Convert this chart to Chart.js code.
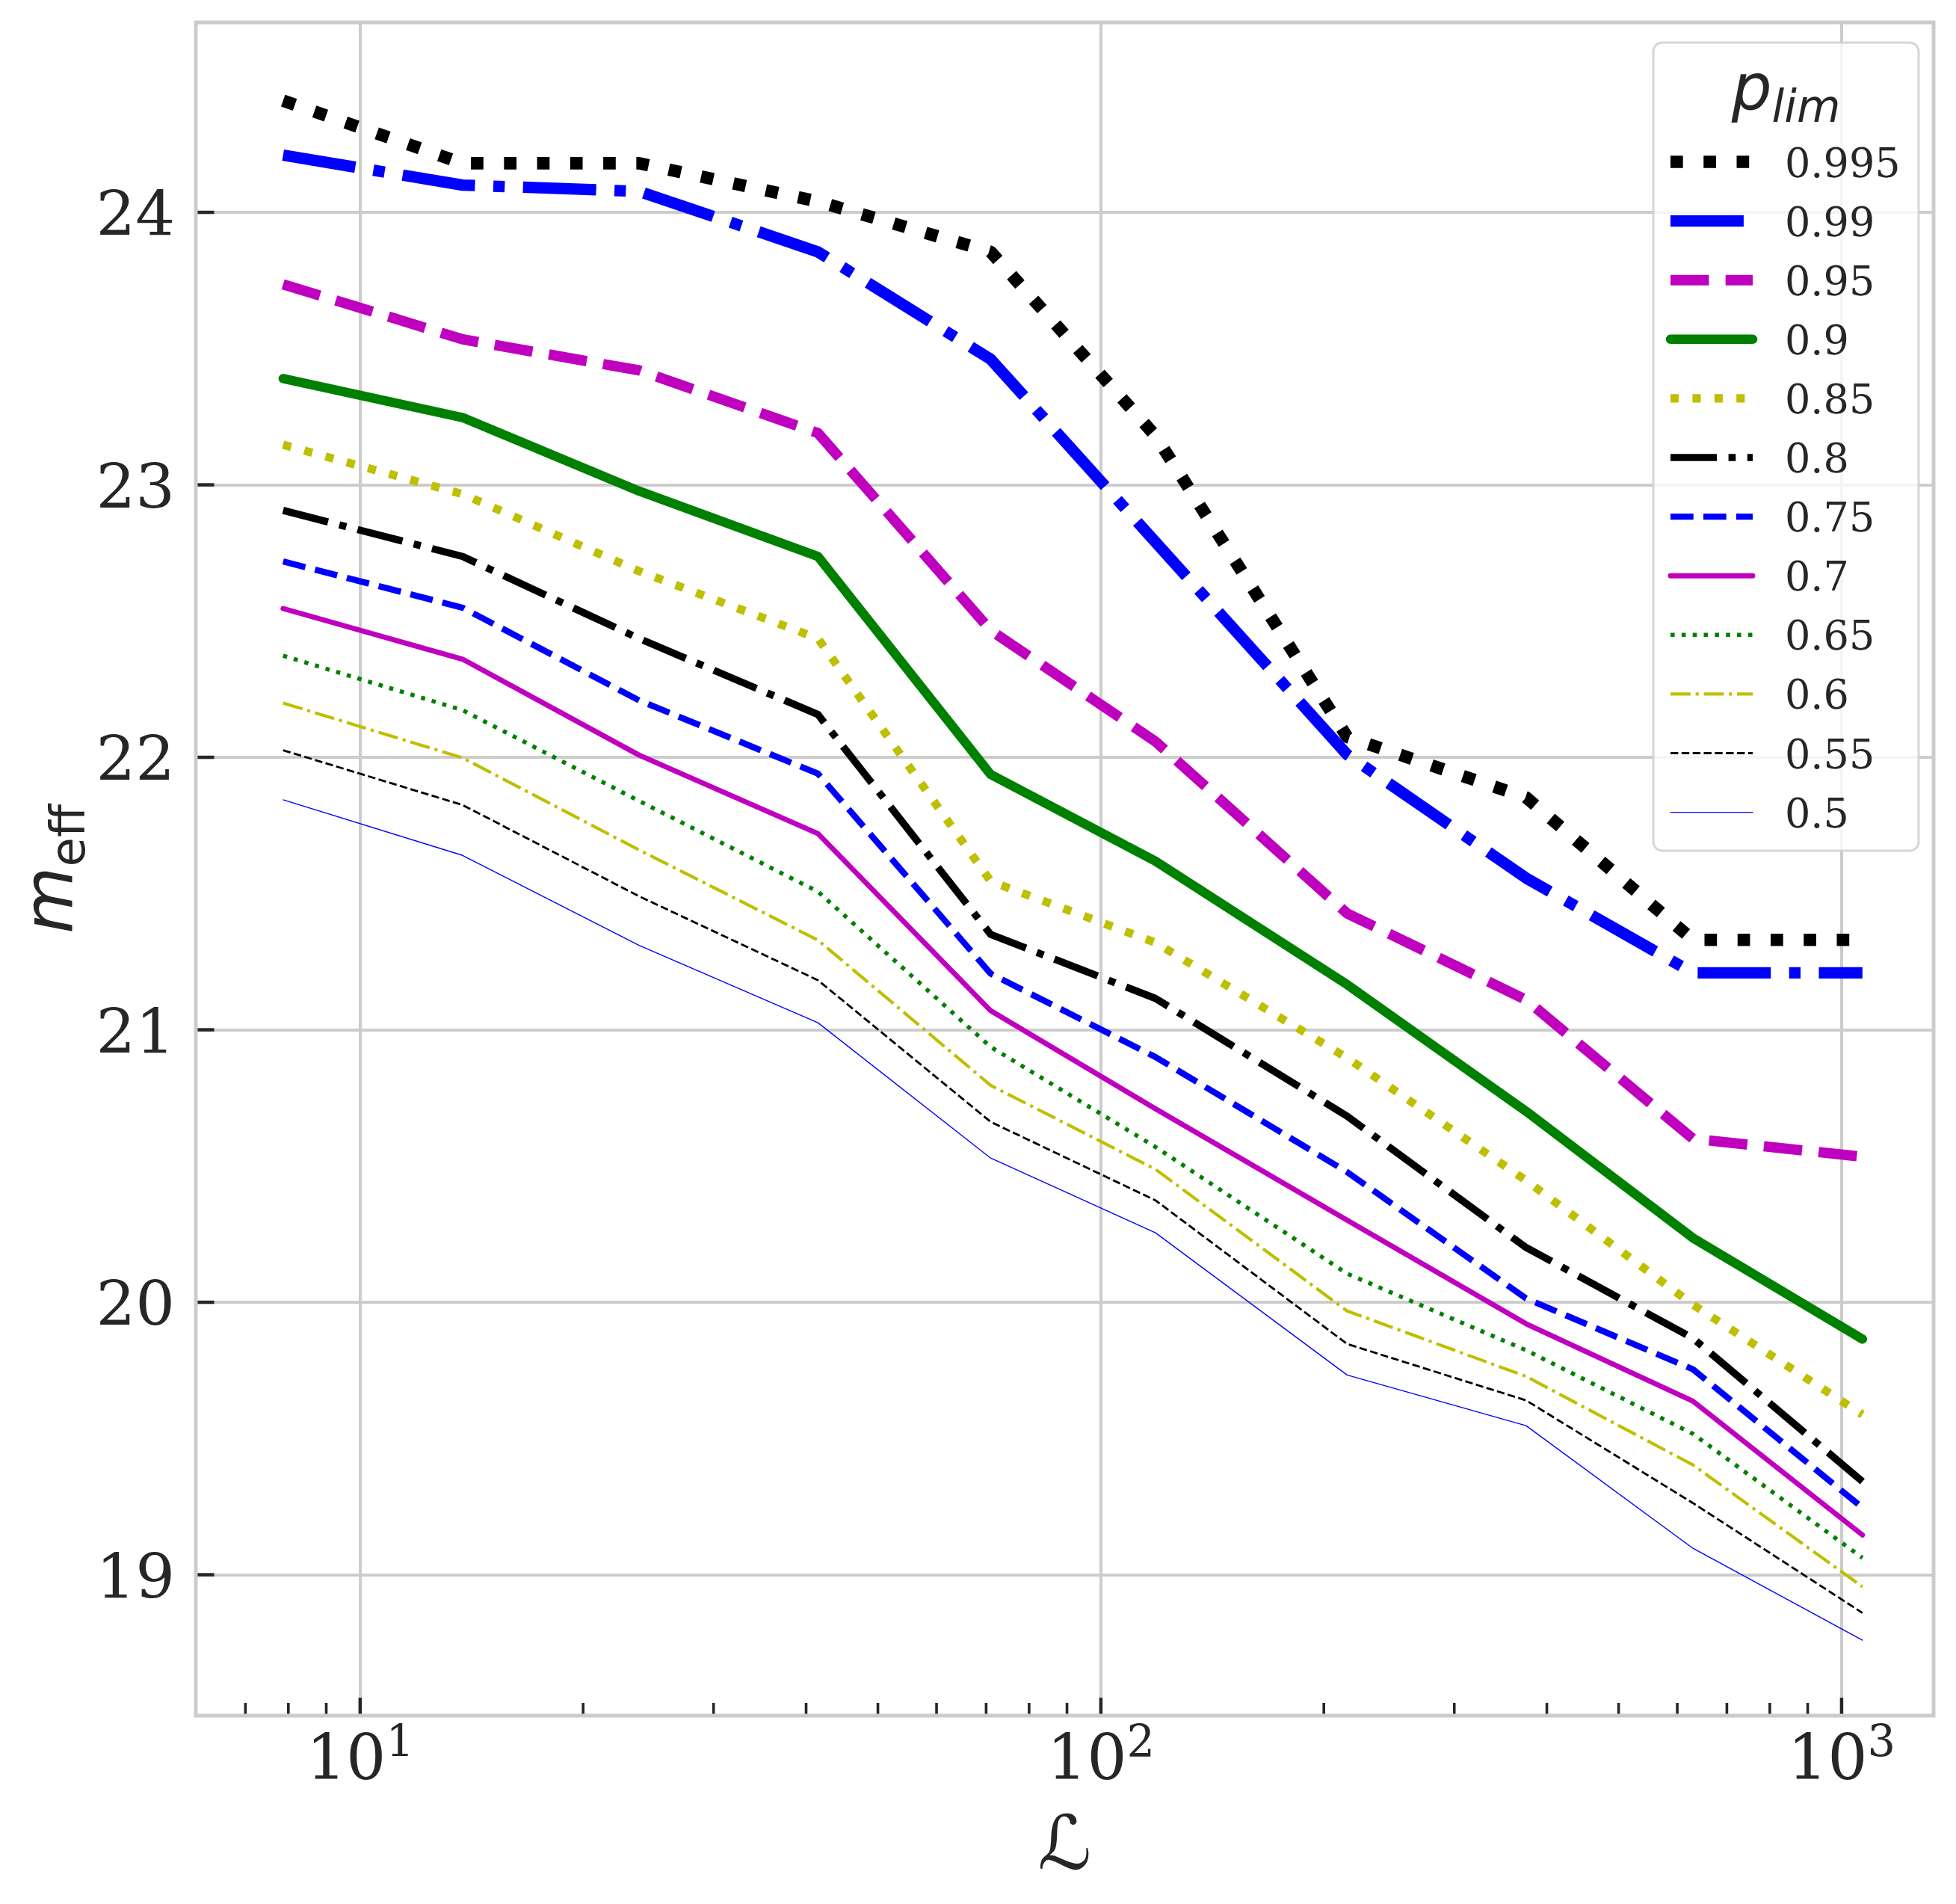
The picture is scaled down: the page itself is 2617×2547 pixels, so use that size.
<!DOCTYPE html>
<html lang="en">
<head>
  <meta charset="UTF-8">
  <title>m_eff vs L</title>
  <style>
    body { margin: 0; background: #ffffff; }
    canvas { display: block; }
  </style>
</head>
<body>
  <canvas id="chart" width="2617" height="2547"></canvas>

  <script src="https://cdn.jsdelivr.net/npm/chart.js@4.4.1/dist/chart.umd.min.js"></script>
  <script>
    // x positions of the curves (L)
    const lValues = [7.87, 13.75, 23.8, 41.5, 71.0, 118.5, 215, 375, 630, 1067];

    // m_eff for each p_lim
    const mEff995 = [24.41, 24.18, 24.18, 24.04, 23.855, 23.18, 22.075, 21.853, 21.33, 21.33];
    const mEff990 = [24.21, 24.10, 24.077, 23.855, 23.461, 22.79, 22.01, 21.557, 21.209, 21.209];
    const mEff950 = [23.736, 23.534, 23.42, 23.19, 22.466, 22.058, 21.427, 21.11, 20.60, 20.534];
    const mEff900 = [23.39, 23.247, 22.977, 22.737, 21.937, 21.619, 21.166, 20.701, 20.236, 19.865];
    const mEff850 = [23.147, 22.966, 22.683, 22.436, 21.545, 21.32, 20.897, 20.447, 19.991, 19.588];
    const mEff800 = [22.906, 22.737, 22.436, 22.157, 21.35, 21.115, 20.683, 20.201, 19.868, 19.342];
    const mEff750 = [22.719, 22.549, 22.209, 21.94, 21.206, 20.90, 20.478, 20.014, 19.754, 19.246];
    const mEff700 = [22.546, 22.36, 22.008, 21.72, 21.07, 20.71, 20.301, 19.921, 19.637, 19.146];
    const mEff650 = [22.373, 22.173, 21.84, 21.507, 20.937, 20.57, 20.105, 19.824, 19.517, 19.062];
    const mEff600 = [22.199, 21.998, 21.66, 21.329, 20.796, 20.488, 19.968, 19.728, 19.403, 18.956];
    const mEff550 = [22.026, 21.825, 21.49, 21.182, 20.662, 20.374, 19.847, 19.64, 19.263, 18.86];
    const mEff500 = [21.844, 21.64, 21.31, 21.026, 20.529, 20.255, 19.733, 19.547, 19.097, 18.76];

    const pLimLabels = ['0.995', '0.99', '0.95', '0.9', '0.85', '0.8', '0.75', '0.7', '0.65', '0.6', '0.55', '0.5'];
    const seriesValues = [mEff995, mEff990, mEff950, mEff900, mEff850, mEff800,
                          mEff750, mEff700, mEff650, mEff600, mEff550, mEff500];

    // ticks
    const yTicks = [19, 20, 21, 22, 23, 24];
    const xTicks = [10, 100, 1000];
    const xMinorTicks = [7, 8, 9, 20, 30, 40, 50, 60, 70, 80, 90, 200, 300, 400, 500, 600, 700, 800, 900];

    // line styles (matplotlib k b m g y cycle, widths in px)
    const lineColors = ['#000000', '#0000ff', '#bf00bf', '#008000', '#bfbf00', '#000000',
                        '#0000ff', '#bf00bf', '#008000', '#bfbf00', '#000000', '#0000ff'];
    const lineKinds = [':', '-.', '--', '-', ':', '-.', '--', '-', ':', '-.', '--', '-'];
    const lineWidths = [16.7, 15.3, 13.9, 12.5, 11.1, 9.7, 8.3, 6.9, 5.6, 4.2, 2.8, 1.4];

    function dashFor(kind, w) {
      if (kind === ':') return [w, 1.65 * w];
      if (kind === '--') return [3.7 * w, 1.6 * w];
      if (kind === '-.') return [6.4 * w, 1.6 * w, w, 1.6 * w];
      return [];
    }

    const TEXT = '#262626';
    const GRID = '#cccccc';

    const datasets = seriesValues.map((vals, i) => ({
      label: pLimLabels[i],
      data: lValues.map((x, j) => ({ x: x, y: vals[j] })),
      borderColor: lineColors[i],
      borderWidth: lineWidths[i],
      borderDash: dashFor(lineKinds[i], lineWidths[i]),
      borderCapStyle: lineKinds[i] === '-' ? 'round' : 'butt',
      borderJoinStyle: 'round',
      pointRadius: 0,
      tension: 0,
      fill: false,
      order: seriesValues.length - i
    }));

    const mplPlugin = {
      id: 'mpl',
      afterDatasetsDraw(chart) {
        const { ctx, chartArea: a, scales } = chart;
        const x = scales.x, y = scales.y;
        ctx.save();
        ctx.strokeStyle = TEXT;
        ctx.lineCap = 'butt';
        // inward ticks
        ctx.lineWidth = 4.5;
        xTicks.forEach(v => {
          const px = x.getPixelForValue(v);
          ctx.beginPath(); ctx.moveTo(px, a.bottom); ctx.lineTo(px, a.bottom - 24); ctx.stroke();
        });
        yTicks.forEach(v => {
          const py = y.getPixelForValue(v);
          ctx.beginPath(); ctx.moveTo(a.left, py); ctx.lineTo(a.left + 24.5, py); ctx.stroke();
        });
        ctx.lineWidth = 3.6;
        xMinorTicks.forEach(v => {
          const px = x.getPixelForValue(v);
          ctx.beginPath(); ctx.moveTo(px, a.bottom); ctx.lineTo(px, a.bottom - 17); ctx.stroke();
        });
        // spines
        ctx.strokeStyle = GRID;
        ctx.lineWidth = 5;
        ctx.strokeRect(a.left, a.top, a.right - a.left, a.bottom - a.top);
        ctx.restore();
      },
      afterDraw(chart) {
        const { ctx, chartArea: a, scales } = chart;
        const x = scales.x, y = scales.y;
        ctx.save();
        ctx.fillStyle = TEXT;
        ctx.textBaseline = 'alphabetic';

        // y tick labels
        ctx.font = '83px "DejaVu Serif"';
        ctx.textAlign = 'right';
        yTicks.forEach(v => {
          ctx.fillText(String(v), a.left - 28, y.getPixelForValue(v) + 31);
        });

        // x tick labels 10^n
        ctx.textAlign = 'left';
        xTicks.forEach(v => {
          const px = x.getPixelForValue(v);
          const exp = String(Math.round(Math.log10(v)));
          ctx.font = '84px "DejaVu Serif"';
          const w1 = ctx.measureText('10').width;
          ctx.font = '59px "DejaVu Serif"';
          const w2 = ctx.measureText(exp).width;
          const x0 = px - (w1 + w2) / 2;
          ctx.font = '84px "DejaVu Serif"';
          ctx.fillText('10', x0, a.bottom + 85);
          ctx.font = '59px "DejaVu Serif"';
          ctx.fillText(exp, x0 + w1, a.bottom + 55);
        });

        // x axis label
        ctx.font = '100px "DejaVu Sans"';
        ctx.textAlign = 'center';
        ctx.fillText('\u2112', (a.left + a.right) / 2, a.bottom + 205);

        // y axis label m_eff
        ctx.textAlign = 'left';
        ctx.save();
        ctx.translate(a.left - 165, (a.top + a.bottom) / 2);
        ctx.rotate(-Math.PI / 2);
        ctx.font = 'italic 92px "DejaVu Sans"';
        const wm = ctx.measureText('m').width;
        ctx.font = '64px "DejaVu Sans"';
        const we = ctx.measureText('eff').width;
        const s = -(wm + we) / 2;
        ctx.font = 'italic 92px "DejaVu Sans"';
        ctx.fillText('m', s, 0);
        ctx.font = '64px "DejaVu Sans"';
        ctx.fillText('eff', s + wm, 16);
        ctx.restore();

        // legend
        const bw = 355, bh = 1081;
        const bx = a.right - 20 - bw, by = a.top + 27;
        ctx.beginPath();
        ctx.roundRect(bx, by, bw, bh, 12);
        ctx.fillStyle = 'rgba(255,255,255,0.8)';
        ctx.fill();
        ctx.strokeStyle = 'rgba(204,204,204,0.8)';
        ctx.lineWidth = 3;
        ctx.stroke();

        // legend title p_lim
        ctx.fillStyle = TEXT;
        ctx.font = 'italic 85px "DejaVu Sans"';
        const wp = ctx.measureText('p').width;
        ctx.font = 'italic 60px "DejaVu Sans"';
        const wl = ctx.measureText('lim').width;
        const tx = bx + bw / 2 - (wp + wl) / 2;
        ctx.font = 'italic 85px "DejaVu Sans"';
        ctx.fillText('p', tx, a.top + 116);
        ctx.font = 'italic 60px "DejaVu Sans"';
        ctx.fillText('lim', tx + wp, a.top + 133);

        chart.data.datasets.forEach((ds, i) => {
          const ry = a.top + 186.5 + i * 79.1;
          ctx.save();
          ctx.strokeStyle = ds.borderColor;
          ctx.lineWidth = ds.borderWidth;
          ctx.setLineDash(ds.borderDash);
          ctx.lineDashOffset = 0;
          ctx.lineCap = ds.borderCapStyle;
          ctx.beginPath();
          ctx.moveTo(bx + 23, ry);
          ctx.lineTo(bx + 133, ry);
          ctx.stroke();
          ctx.restore();
          ctx.fillStyle = TEXT;
          ctx.font = '54px "DejaVu Serif"';
          ctx.fillText(ds.label, bx + 176, ry + 20);
        });
        ctx.restore();
      }
    };

    new Chart(document.getElementById('chart').getContext('2d'), {
      type: 'line',
      data: { datasets: datasets },
      plugins: [mplPlugin],
      options: {
        responsive: false,
        animation: false,
        devicePixelRatio: 1,
        layout: { padding: { top: 30, right: 30, left: 0, bottom: 0 } },
        scales: {
          x: {
            type: 'logarithmic',
            min: 6,
            max: 1331,
            afterBuildTicks: s => { s.ticks = xTicks.map(v => ({ value: v })); },
            afterFit: s => { s.height = 252; },
            grid: { color: GRID, lineWidth: 4, drawTicks: false },
            border: { display: false },
            ticks: { display: false }
          },
          y: {
            type: 'linear',
            min: 18.483,
            max: 24.697,
            afterBuildTicks: s => { s.ticks = yTicks.map(v => ({ value: v })); },
            afterFit: s => { s.width = 262; },
            grid: { color: GRID, lineWidth: 4, drawTicks: false },
            border: { display: false },
            ticks: { display: false }
          }
        },
        plugins: {
          legend: { display: false },
          tooltip: { enabled: false }
        }
      }
    });
  </script>
</body>
</html>
